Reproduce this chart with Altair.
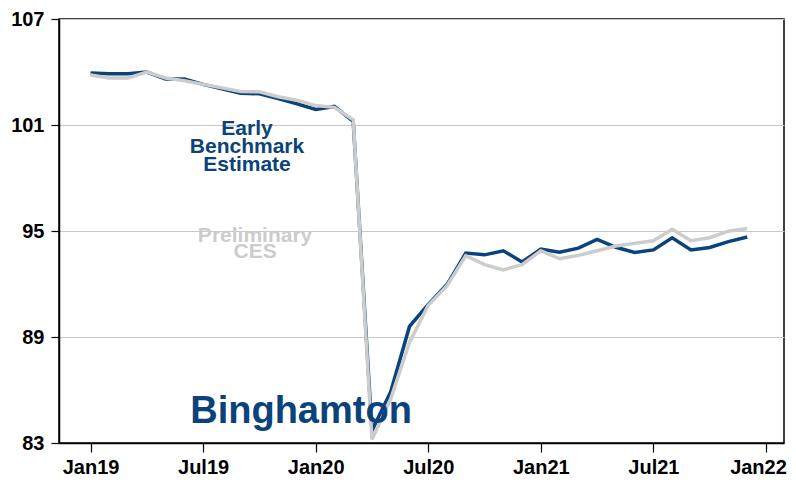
import altair as alt
import pandas as pd

months = ["Jan19", "Feb19", "Mar19", "Apr19", "May19", "Jun19", "Jul19", "Aug19", "Sep19",
          "Oct19", "Nov19", "Dec19", "Jan20", "Feb20", "Mar20", "Apr20", "May20", "Jun20",
          "Jul20", "Aug20", "Sep20", "Oct20", "Nov20", "Dec20", "Jan21", "Feb21", "Mar21",
          "Apr21", "May21", "Jun21", "Jul21", "Aug21", "Sep21", "Oct21", "Nov21", "Dec21"]

early = [103.94, 103.9, 103.9, 104.0, 103.6, 103.6, 103.3, 103.05, 102.8, 102.77, 102.5, 102.2,
         101.88, 102.05, 101.2, 83.7, 85.9, 89.6, 90.85, 91.97, 93.75, 93.65, 93.88, 93.25,
         93.97, 93.8, 94.03, 94.53, 94.08, 93.79, 93.93, 94.62, 93.93, 94.07, 94.4, 94.66]

prelim = [103.83, 103.66, 103.66, 104.0, 103.66, 103.5, 103.3, 103.1, 102.9, 102.88, 102.6, 102.4,
          102.1, 102.0, 101.3, 83.2, 85.5, 88.7, 90.8, 91.9, 93.6, 93.1, 92.8, 93.1,
          93.88, 93.43, 93.62, 93.88, 94.15, 94.3, 94.45, 95.1, 94.45, 94.62, 94.99, 95.14]

tick_values = [0, 6, 12, 18, 24, 30, 36]
tick_labels = ["Jan19", "Jul19", "Jan20", "Jul20", "Jan21", "Jul21", "Jan22"]
y_ticks = [83, 89, 95, 101, 107]

ann_text = ["Early\nBenchmark\nEstimate", "Preliminary\nCES", "Binghamton"]
ann_x = [8.34, 8.77, 11.22]
ann_y = [100.76, 94.7, 84.78]

BLUE = "#0a437c"
GRAY = "#cccccc"

df_e = pd.DataFrame({"idx": list(range(len(months))), "month": months, "value": early})
df_p = pd.DataFrame({"idx": list(range(len(months))), "month": months, "value": prelim})

label_expr = "[" + ",".join("'" + t + "'" for t in tick_labels) + "][round(datum.value/6)]"

x_enc = alt.X("idx:Q",
              scale=alt.Scale(domain=[-1.68, 36.96], nice=False, zero=False),
              axis=alt.Axis(values=tick_values, labelExpr=label_expr, title=None, grid=False,
                            tickSize=9, labelPadding=5, labelFontSize=20, labelFontWeight="bold",
                            labelColor="black", domainColor="black", tickColor="black",
                            domainWidth=1.5, tickWidth=1.2, labelFont="Liberation Sans",
                            labelOffset={"condition": {"test": "datum.value == 36", "value": -8},
                                         "value": 0}))
y_enc = alt.Y("value:Q",
              scale=alt.Scale(domain=[83, 107], nice=False, zero=False),
              axis=alt.Axis(values=y_ticks, title=None, grid=True, gridColor="#c8c8c8",
                            gridWidth=1, tickSize=8, labelPadding=7, labelFontSize=20,
                            labelFontWeight="bold", labelColor="black", domainColor="black",
                            tickColor="black", domainWidth=1.5, tickWidth=1.2,
                            labelFont="Liberation Sans"))

line_e = alt.Chart(df_e).mark_line(color=BLUE, strokeWidth=3.5).encode(x=x_enc, y=y_enc)
line_p = alt.Chart(df_p).mark_line(color=GRAY, strokeWidth=3.5).encode(x="idx:Q", y="value:Q")

ann_df = pd.DataFrame({"x": ann_x, "y": ann_y, "text": ann_text,
                       "kind": ["early", "prelim", "city"]})

t_early = alt.Chart(ann_df[ann_df.kind == "early"]).mark_text(
    font="Liberation Sans", fontWeight="bold", fontSize=21, lineHeight=18,
    color=BLUE, align="center", baseline="middle", lineBreak="\n"
).encode(x="x:Q", y="y:Q", text="text:N")

t_prelim = alt.Chart(ann_df[ann_df.kind == "prelim"]).mark_text(
    font="Liberation Sans", fontWeight="bold", fontSize=21, lineHeight=16,
    color=GRAY, align="center", baseline="middle", lineBreak="\n"
).encode(x="x:Q", y="y:Q", text="text:N")

t_city = alt.Chart(ann_df[ann_df.kind == "city"]).mark_text(
    font="Liberation Sans", fontWeight="bold", fontSize=38,
    color=BLUE, align="center", baseline="middle"
).encode(x="x:Q", y="y:Q", text="text:N")

chart = alt.layer(line_e, line_p, t_early, t_prelim, t_city).properties(
    width=725, height=424,
    background="white",
    autosize=alt.AutoSizeParams(type="none"),
    padding={"left": 51, "top": 11, "right": 4, "bottom": 38},
).configure_view(stroke="black", strokeWidth=1.5)

chart.save("out.html", embed_options={"renderer": "svg", "actions": False})
